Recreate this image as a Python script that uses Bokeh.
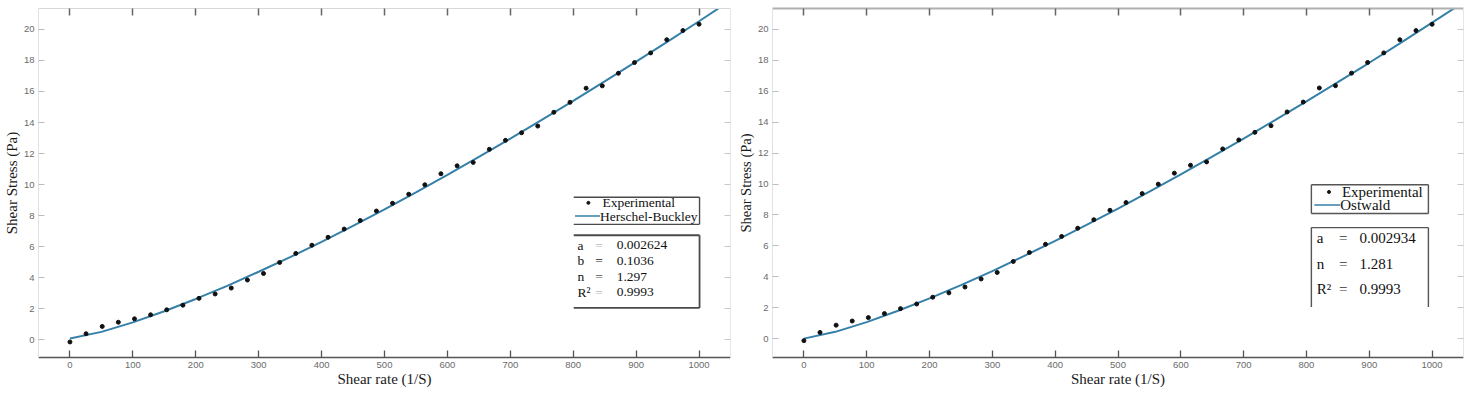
from bokeh.plotting import figure
from bokeh.models import LinearAxis, Label, FixedTicker, Range1d, CustomLabelingPolicy
from bokeh.layouts import row
from bokeh.embed import file_html
from bokeh.resources import INLINE

# ---------------- data ----------------
shear_rate = [0.0, 25.6, 51.3, 76.9, 102.6, 128.2, 153.8, 179.5, 205.1, 230.8,
              256.4, 282.1, 307.7, 333.3, 359.0, 384.6, 410.3, 435.9, 461.5, 487.2,
              512.8, 538.5, 564.1, 589.7, 615.4, 641.0, 666.7, 692.3, 717.9, 743.6,
              769.2, 794.9, 820.5, 846.2, 871.8, 897.4, 923.1, 948.7, 974.4, 1000.0]
shear_stress = [-0.13, 0.40, 0.87, 1.14, 1.36, 1.62, 1.94, 2.24, 2.68, 2.96,
                3.34, 3.86, 4.28, 4.99, 5.57, 6.10, 6.61, 7.14, 7.69, 8.30,
                8.80, 9.38, 9.99, 10.70, 11.21, 11.43, 12.27, 12.85, 13.34, 13.77,
                14.66, 15.30, 16.21, 16.36, 17.17, 17.86, 18.48, 19.33, 19.92, 20.33]

fit_rate = [0, 50, 100, 150, 200, 250, 300, 350, 400, 450, 500,
            550, 600, 650, 700, 750, 800, 850, 900, 950, 1000, 1040]
hb_fit = [0.10, 0.52, 1.13, 1.85, 2.64, 3.48, 4.39, 5.33, 6.32, 7.35, 8.41,
          9.50, 10.63, 11.78, 12.96, 14.17, 15.39, 16.65, 17.92, 19.21, 20.52, 21.59]
ost_fit = [0.00, 0.44, 1.07, 1.80, 2.60, 3.46, 4.37, 5.33, 6.32, 7.35, 8.41,
           9.50, 10.63, 11.77, 12.94, 14.13, 15.35, 16.59, 17.84, 19.13, 20.44, 21.49]

x_ticks = [0, 100, 200, 300, 400, 500, 600, 700, 800, 900, 1000]
y_ticks = [0, 2, 4, 6, 8, 10, 12, 14, 16, 18, 20]

hb_names = ["a", "b", "n", "R\u00b2"]
hb_values = ["0.002624", "0.1036", "1.297", "0.9993"]
ost_names = ["a", "n", "R\u00b2"]
ost_values = ["0.002934", "1.281", "0.9993"]

x_title = "Shear rate (1/S)"
y_title = "Shear Stress (Pa)"

SERIF = "Liberation Serif"
SANS = "Liberation Sans"
CURVE = "#3580a8"
H = 393

HIDE_LABELS = """
const n = indices.size
for (let i = 0; i < n; i++) { indices.unset(i) }
return indices
"""


def make_panel(width, mbl, mbr, mbt, mbb, xr, yr, top_color, top_width, ylab_size):
    p = figure(width=width, height=H, x_range=Range1d(*xr), y_range=Range1d(*yr),
               output_backend="svg", toolbar_location=None,
               min_border_left=mbl, min_border_right=mbr,
               min_border_top=mbt, min_border_bottom=mbb)
    p.grid.visible = False
    p.outline_line_color = None
    p.background_fill_color = "white"
    p.border_fill_color = "white"

    xa = p.xaxis[0]
    xa.ticker = FixedTicker(ticks=x_ticks)
    xa.axis_line_color = "#555555"
    xa.axis_line_width = 1.6
    xa.major_tick_in = 7
    xa.major_tick_out = 0
    xa.major_tick_line_color = "#555555"
    xa.major_tick_line_width = 1.3
    xa.minor_tick_line_color = None
    xa.major_label_text_font = SANS
    xa.major_label_text_font_size = "9.5px"
    xa.major_label_text_color = "#6a6a6a"
    xa.major_label_standoff = 4
    xa.axis_label = x_title
    xa.axis_label_text_font = SERIF
    xa.axis_label_text_font_style = "normal"
    xa.axis_label_text_font_size = "15px"
    xa.axis_label_text_color = "#1a1a1a"
    xa.axis_label_standoff = 0

    ya = p.yaxis[0]
    ya.ticker = FixedTicker(ticks=y_ticks)
    ya.axis_line_color = "#e2e2e2"
    ya.major_tick_in = 6
    ya.major_tick_out = 0
    ya.major_tick_line_color = "#bdbdbd"
    ya.minor_tick_line_color = None
    ya.major_label_text_font = SANS
    ya.major_label_text_font_size = "9.5px"
    ya.major_label_text_color = "#6a6a6a"
    ya.major_label_standoff = 4
    ya.axis_label = y_title
    ya.axis_label_text_font = SERIF
    ya.axis_label_text_font_style = "normal"
    ya.axis_label_text_font_size = ylab_size
    ya.axis_label_text_color = "#1a1a1a"
    ya.axis_label_standoff = 1

    top = LinearAxis(ticker=FixedTicker(ticks=x_ticks), axis_line_color=top_color,
                     axis_line_width=top_width, major_tick_in=7, major_tick_out=0,
                     major_tick_line_color="#666666", major_tick_line_width=1.5,
                     minor_tick_line_color=None, major_label_text_font_size="1px",
                     major_label_standoff=0,
                     major_label_policy=CustomLabelingPolicy(code=HIDE_LABELS))
    p.add_layout(top, "above")
    right = LinearAxis(ticker=FixedTicker(ticks=y_ticks), axis_line_color="#e6e6e6",
                       major_tick_in=6, major_tick_out=0,
                       major_tick_line_color="#c8c8c8", minor_tick_line_color=None,
                       major_label_text_font_size="1px", major_label_standoff=0,
                       major_label_policy=CustomLabelingPolicy(code=HIDE_LABELS))
    p.add_layout(right, "right")
    return p


def mapper(fx0, fx1, fy0, fy1, xr, yr):
    # page pixel -> data coordinate helpers for placing the legend / stats boxes
    def mx(px):
        return xr[0] + (px - fx0) / (fx1 - fx0) * (xr[1] - xr[0])

    def my(py):
        return yr[1] - (py - fy0) / (fy1 - fy0) * (yr[1] - yr[0])
    return mx, my


def text(p, x, y, s, size, align="left", color="#111111"):
    p.add_layout(Label(x=x, y=y, text=s, text_font=SERIF, text_font_size=size,
                       text_align=align, text_baseline="middle", text_color=color))


# ---------------- left panel: Herschel-Buckley ----------------
L_XR = (-50, 1050)
L_YR = (-1.13, 21.34)
W1 = 37 + 693 + 4
p1 = make_panel(W1, 37, 4, 8, H - 360, L_XR, L_YR, "#d8d8d8", 1, "15px")
lx, ly = mapper(37, 730, 8, 360, L_XR, L_YR)

p1.line(fit_rate, hb_fit, line_color=CURVE, line_width=2)
p1.scatter(shear_rate, shear_stress, size=4, color="#111111")

box_col = "#4a4a4a"
p1.segment(x0=[lx(573), lx(699), lx(573)], y0=[ly(198.3), ly(198.3), ly(225.7)],
           x1=[lx(699), lx(699), lx(699)], y1=[ly(198.3), ly(225.7), ly(225.7)],
           line_color=box_col, line_width=1.4)
p1.segment(x0=[lx(573), lx(699), lx(573)], y0=[ly(236.7), ly(236.7), ly(310)],
           x1=[lx(699), lx(699), lx(699)], y1=[ly(236.7), ly(310), ly(310)],
           line_color=box_col, line_width=1.8)
p1.scatter([lx(587.7)], [ly(204)], size=3, color="#111111")
text(p1, lx(601.7), ly(204), "Experimental", "13.5px")
p1.line([lx(574.3), lx(599.3)], [ly(217.3), ly(217.3)], line_color=CURVE, line_width=1.5)
text(p1, lx(599.3), ly(217.3), "Herschel-Buckley", "13.5px")
eq_cols1 = ["#bbbbbb", "#222222", "#555555", "#bbbbbb"]
for i, (nm, val) in enumerate(zip(hb_names, hb_values)):
    yy = ly(246.7 + i * 15.9)
    text(p1, lx(576.7), yy, nm, "13.5px")
    text(p1, lx(598.3), yy, "=", "13.5px", align="center", color=eq_cols1[i])
    text(p1, lx(616), yy, val, "13.5px")

# ---------------- right panel: Ostwald ----------------
R_XR = (-50, 1050)
R_YR = (-1.22, 21.35)
X2 = W1
MBL2 = 768 - X2
W2 = MBL2 + 695 + 4
p2 = make_panel(W2, MBL2, 4, 5, H - 357, R_XR, R_YR, "#b0b0b0", 2, "14.5px")
rx, ry = mapper(768, 1463, 5, 357, R_XR, R_YR)

p2.line(fit_rate, ost_fit, line_color=CURVE, line_width=2)
p2.scatter(shear_rate, shear_stress, size=4, color="#111111")

p2.segment(x0=[rx(1310), rx(1427.7), rx(1310), rx(1310)],
           y0=[ry(182.7), ry(182.7), ry(211.7), ry(182.7)],
           x1=[rx(1427.7), rx(1427.7), rx(1427.7), rx(1310)],
           y1=[ry(182.7), ry(211.7), ry(211.7), ry(211.7)],
           line_color="#555555", line_width=1.4)
p2.segment(x0=[rx(1310), rx(1310), rx(1427.7)], y0=[ry(226), ry(226), ry(226)],
           x1=[rx(1310), rx(1427.7), rx(1427.7)], y1=[ry(306), ry(226), ry(306)],
           line_color="#555555", line_width=1.4)
p2.scatter([rx(1327.7)], [ry(190)], size=3, color="#111111")
text(p2, rx(1340.7), ry(190), "Experimental", "15px")
p2.line([rx(1313), rx(1339)], [ry(203.3), ry(203.3)], line_color=CURVE, line_width=1.5)
text(p2, rx(1339), ry(203.3), "Ostwald", "15px")
for i, (nm, val) in enumerate(zip(ost_names, ost_values)):
    yy = ry(236.7 + i * 25.8)
    text(p2, rx(1315.5), yy, nm, "15px")
    text(p2, rx(1342), yy, "=", "15px", align="center", color="#333333")
    text(p2, rx(1358.3), yy, val, "15px")

layout = row(p1, p2)
open("out.html", "w").write(file_html(layout, INLINE))
